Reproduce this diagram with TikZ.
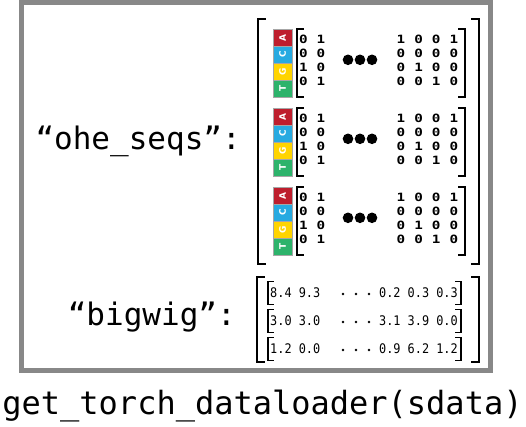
\documentclass[tikz,border=0pt]{standalone}
\usepackage{fontspec}
\newfontfamily\labfont{DejaVu Sans Mono}
\newfontfamily\numfont{DejaVu Sans Mono}
\newfontfamily\basefont{DejaVu Sans}
\definecolor{frameg}{RGB}{136,136,136}
\definecolor{baseA}{RGB}{190,30,45}
\definecolor{baseC}{RGB}{39,170,225}
\definecolor{baseG}{RGB}{255,212,0}
\definecolor{baseT}{RGB}{45,179,107}
\tikzset{
  frame/.style={draw=frameg, line width=5pt},
  brkbig/.style={line width=2.5pt, line join=miter, line cap=rect},
  brksmall/.style={line width=2pt, line join=miter, line cap=rect},
  cell/.style={rotate=90, draw=gray!70, line width=0.5pt, minimum width=16.9pt, minimum height=19pt, inner sep=0pt, text=white, font=\basefont\bfseries\fontsize{9}{9}\selectfont},
  dig/.style={inner sep=0pt, font=\numfont\bfseries\fontsize{11.4}{11.4}\selectfont},
  val/.style={inner sep=0pt, font=\numfont\fontsize{13.2}{13.2}\selectfont},
  lab/.style={inner sep=0pt, font=\labfont\fontsize{31}{31}\selectfont},
  bottomlab/.style={inner sep=0pt, font=\labfont\fontsize{32}{32}\selectfont},
}
\begin{document}
\begin{tikzpicture}[x=1pt,y=-1pt]
\useasboundingbox (0,0) rectangle (526,426);
% outer frame
\draw[frame] (21.5,2.5) rectangle (490.5,370.5);
% labels
\node[lab, anchor=base east] (ohelab) at (241,149) {“ohe\_seqs”:};
\node[lab, anchor=base east] (bwlab) at (236,325) {“bigwig”:};
\node[bottomlab, anchor=base] (call) at (262.5,414) {get\_torch\_dataloader(sdata)};
% big brackets for ohe_seqs
\draw[brkbig] (265,19) -- (258,19) -- (258,264) -- (265,264);
\draw[brkbig] (472,19) -- (479,19) -- (479,264) -- (472,264);
% blocks
\foreach \t [count=\b] in {29.3,108.3,187.3}{
  \foreach \L/\c [count=\i from 0] in {A/baseA,C/baseC,G/baseG,T/baseT}{
    \node[cell, fill=\c] (cell-\b-\L) at (282.5,\t+8.45+16.9*\i) {\L};
  }
  \draw[brksmall] (303,\t) -- (297,\t) -- (297,\t+67.6) -- (303,\t+67.6);
  \draw[brksmall] (459,\t) -- (465,\t) -- (465,\t+67.6) -- (459,\t+67.6);
  \foreach \row [count=\r from 0] in {
      {0/303.5,1/320.8,1/401,0/418.6,0/436.2,1/453.8},
      {0/303.5,0/320.8,0/401,0/418.6,0/436.2,0/453.8},
      {1/303.5,0/320.8,0/401,1/418.6,0/436.2,0/453.8},
      {0/303.5,1/320.8,0/401,0/418.6,1/436.2,0/453.8}}{
    \foreach \v/\x [count=\k] in \row {
      \node[dig] (d-\b-\r-\k) at (\x,\t+10+14*\r) {\scalebox{1.25}[1]{\v}};
    }
  }
  \foreach \x in {348,360,372}{
    \fill (\x,\t+30.5) circle (5.3pt);
  }
}
% bigwig brackets
\draw[brkbig] (264,277) -- (257,277) -- (257,362) -- (264,362);
\draw[brkbig] (472,277) -- (479,277) -- (479,362) -- (472,362);
\foreach \y/\a/\bb [count=\r] in {293/8.4 9.3/0.2 0.3 0.3, 321/3.0 3.0/3.1 3.9 0.0, 349/1.2 0.0/0.9 6.2 1.2}{
  \draw[brksmall, line width=1.6pt] (273,\y-11.5) -- (268,\y-11.5) -- (268,\y+11.5) -- (273,\y+11.5);
  \draw[brksmall, line width=1.6pt] (456,\y-11.5) -- (461,\y-11.5) -- (461,\y+11.5) -- (456,\y+11.5);
  \node[val, anchor=west] (bwl-\r) at (270,\y) {\scalebox{0.9}[1]{\a}};
  \node[val, anchor=east] (bwr-\r) at (458,\y) {\scalebox{0.9}[1]{\bb}};
  \foreach \x in {343,356,369}{
    \fill (\x,\y+1) circle (1.4pt);
  }
}
\end{tikzpicture}
\end{document}
